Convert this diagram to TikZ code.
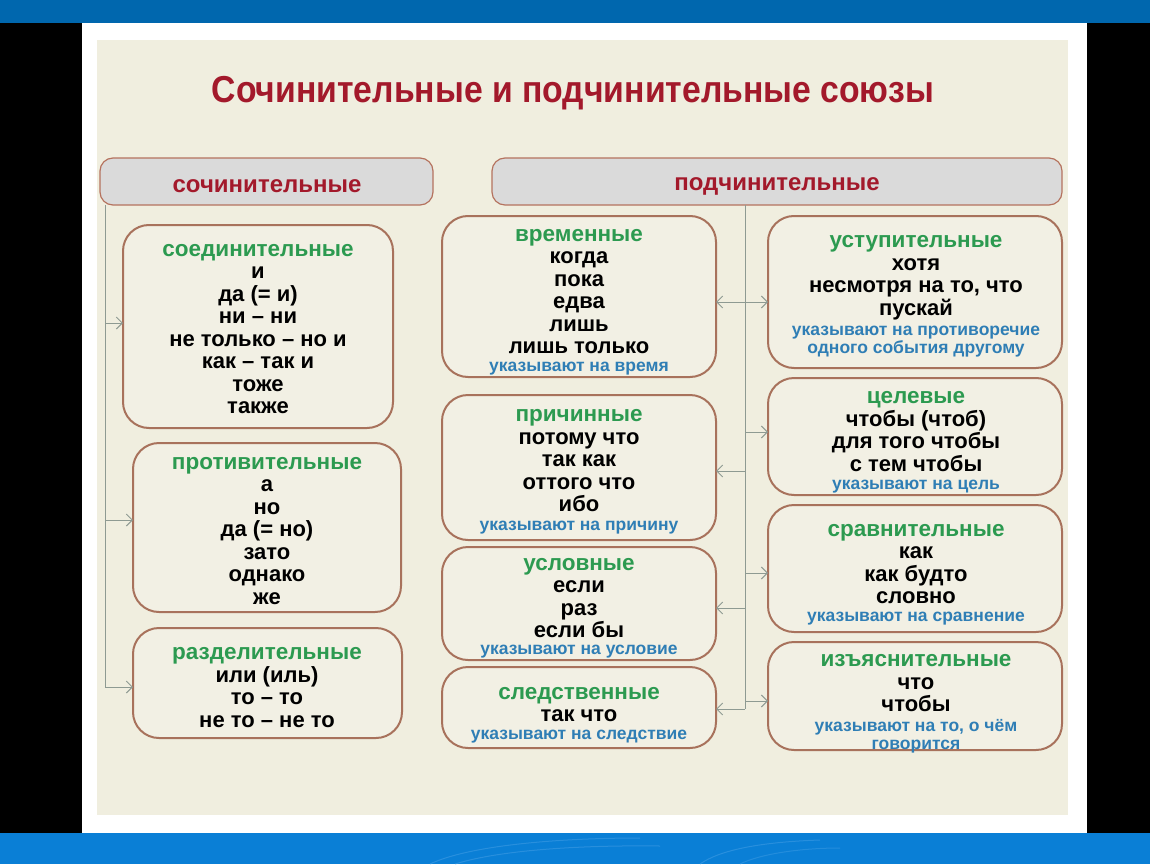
\documentclass[tikz,border=0pt]{standalone}
\usepackage{graphicx}
\usepackage{fontspec}
\setmainfont{Liberation Sans}
\usetikzlibrary{arrows.meta}
\definecolor{topblue}{HTML}{0067AE}
\definecolor{botblue}{HTML}{0A7FD6}
\definecolor{swirl}{HTML}{3D9BE3}
\definecolor{panel}{HTML}{F0EEDF}
\definecolor{boxfill}{HTML}{F2F0E4}
\definecolor{boxline}{HTML}{A8725C}
\definecolor{hdrfill}{HTML}{DADADA}
\definecolor{hdrline}{HTML}{B5735F}
\definecolor{titlered}{HTML}{A3192B}
\definecolor{catgreen}{HTML}{2C9A50}
\definecolor{noteblue}{HTML}{2F7EB5}
\definecolor{connline}{HTML}{8E9A92}
\begin{document}
\begin{tikzpicture}[x=1pt,y=-1pt,
  box/.style={draw=boxline, line width=2pt, fill=boxfill, rounded corners=26pt, inner sep=0pt, outer sep=0pt},
  hdr/.style={draw=hdrline, line width=1.2pt, fill=hdrfill, rounded corners=13pt, inner sep=0pt, outer sep=0pt},
  items/.style={align=center, inner sep=0pt, font=\bfseries\fontsize{22}{22.5}\selectfont},
  note/.style={align=center, inner sep=0pt, text=noteblue, font=\bfseries\fontsize{17.5}{18}\selectfont},
  hdrtext/.style={inner sep=0pt, text=titlered, font=\bfseries\fontsize{24}{26}\selectfont},
  conn/.style={draw=connline, line width=1pt},
  arr/.style={conn, -{Straight Barb[length=6pt,width=12pt]}}
]
\newcommand{\cat}[1]{{\color{catgreen}\fontsize{22.5}{22.5}\selectfont #1}}
% frame
\useasboundingbox (0,0) rectangle (1150,864);
\fill[black] (0,0) rectangle (1150,864);
\fill[white] (82,23) rectangle (1087,833);
\fill[panel] (97,40) rectangle (1068,815);
\fill[topblue] (0,0) rectangle (1150,23);
\fill[botblue] (0,833) rectangle (1150,864);
\draw[swirl, line width=1pt, opacity=0.6] (430,864) .. controls (470,845) and (560,838) .. (640,838);
\draw[swirl, line width=1pt, opacity=0.6] (455,864) .. controls (500,850) and (580,845) .. (660,846);
\draw[swirl, line width=1pt, opacity=0.6] (700,864) .. controls (720,850) and (760,842) .. (820,840);
\draw[swirl, line width=1pt, opacity=0.5] (740,864) .. controls (760,854) and (800,848) .. (840,848);

% title
\node[inner sep=0pt, text=titlered, font=\bfseries\fontsize{37.5}{42}\selectfont] (title) at (573,93)
  {\scalebox{0.9}[1]{Сочинительные и подчинительные союзы}};

% headers
\node[hdr, minimum width=333pt, minimum height=47pt] (hs) at (266.5,181.5) {};
\node[hdrtext] (hst) at (267,186) {сочинительные};
\node[hdr, minimum width=570pt, minimum height=47pt] (hp) at (777,181.5) {};
\node[hdrtext] (hpt) at (777,186) {подчинительные};

% left boxes
\node[box, minimum width=270pt, minimum height=203pt] (s1) at (258,326.5) {};
\node[box, minimum width=268pt, minimum height=169pt] (s2) at (267,527.5) {};
\node[box, minimum width=269pt, minimum height=110pt] (s3) at (267.5,683) {};
% middle boxes
\node[box, minimum width=274pt, minimum height=161pt] (v1) at (579,296.5) {};
\node[box, minimum width=274pt, minimum height=145pt] (v2) at (579,467.5) {};
\node[box, minimum width=274pt, minimum height=113pt] (v3) at (579,603.5) {};
\node[box, minimum width=274pt, minimum height=81pt] (v4) at (579,707.5) {};
% right boxes
\node[box, minimum width=294pt, minimum height=152pt] (u1) at (915,292) {};
\node[box, minimum width=294pt, minimum height=117pt] (u2) at (915,436.5) {};
\node[box, minimum width=294pt, minimum height=127pt] (u3) at (915,568.5) {};
\node[box, minimum width=294pt, minimum height=108pt] (u4) at (915,696) {};

% texts left
\node[items] (s1t) at (258,329) {\cat{соединительные}\\и\\да (= и)\\ни – ни\\не только – но и\\как – так и\\тоже\\также};
\node[items] (s2t) at (267,531) {\cat{противительные}\\а\\но\\да (= но)\\зато\\однако\\же};
\node[items] (s3t) at (267,687.5) {\cat{разделительные}\\или (иль)\\то – то\\не то – не то};
% texts middle
\node[items] (v1t) at (579,291.5) {\cat{временные}\\когда\\пока\\едва\\лишь\\лишь только};
\node[note] (v1n) at (579,369) {указывают на время};
\node[items] (v2t) at (579,461) {\cat{причинные}\\потому что\\так как\\оттого что\\ибо};
\node[note] (v2n) at (579,528) {указывают на причину};
\node[items] (v3t) at (579,598) {\cat{условные}\\если\\раз\\если бы};
\node[note] (v3n) at (579,652) {указывают на условие};
\node[items] (v4t) at (579,704.5) {\cat{следственные}\\так что};
\node[note] (v4n) at (579,737) {указывают на следствие};
% texts right
\node[items] (u1t) at (916,277.5) {\cat{уступительные}\\хотя\\несмотря на то, что\\пускай};
\node[note] (u1n) at (916,342) {указывают на противоречие\\одного события другому};
\node[items] (u2t) at (916,431.5) {\cat{целевые}\\чтобы (чтоб)\\для того чтобы\\с тем чтобы};
\node[note] (u2n) at (916,487) {указывают на цель};
\node[items] (u3t) at (916,564) {\cat{сравнительные}\\как\\как будто\\словно};
\node[note] (u3n) at (916,619) {указывают на сравнение};
\node[items] (u4t) at (916,683.5) {\cat{изъяснительные}\\что\\чтобы};
\node[note] (u4n) at (916,736) {указывают на то, о чём\\говорится};

% left connectors
\coordinate (lt) at ([xshift=5pt]hs.south west);
\draw[arr] (lt) |- ([yshift=-4pt]s3.west);
\draw[arr] ([yshift=3.5pt]s1.west -| lt) -- ([yshift=3.5pt]s1.west);
\draw[arr] ([yshift=7.5pt]s2.west -| lt) -- ([yshift=7.5pt]s2.west);

% middle connectors
\coordinate (mt) at (745,205);
\coordinate (mb) at (745,709);
\draw[conn] (mt) -- (mb);
\draw[arr] ([yshift=-5.5pt]v1.east -| mt) -- ([yshift=-5.5pt]v1.east);
\draw[arr] ([yshift=-10pt]u1.west -| mt) -- ([yshift=-10pt]u1.west);
\draw[arr] ([yshift=-3.5pt]v2.east -| mt) -- ([yshift=-3.5pt]v2.east);
\draw[arr] ([yshift=-4.5pt]v3.east -| mt) -- ([yshift=-4.5pt]v3.east);
\draw[arr] (mb) -- (mb -| v4.east);
\draw[arr] ([yshift=4.5pt]u2.west -| mt) -- ([yshift=4.5pt]u2.west);
\draw[arr] ([yshift=-4.5pt]u3.west -| mt) -- ([yshift=-4.5pt]u3.west);
\draw[arr] ([yshift=-5pt]u4.west -| mt) -- ([yshift=-5pt]u4.west);
\end{tikzpicture}
\end{document}
